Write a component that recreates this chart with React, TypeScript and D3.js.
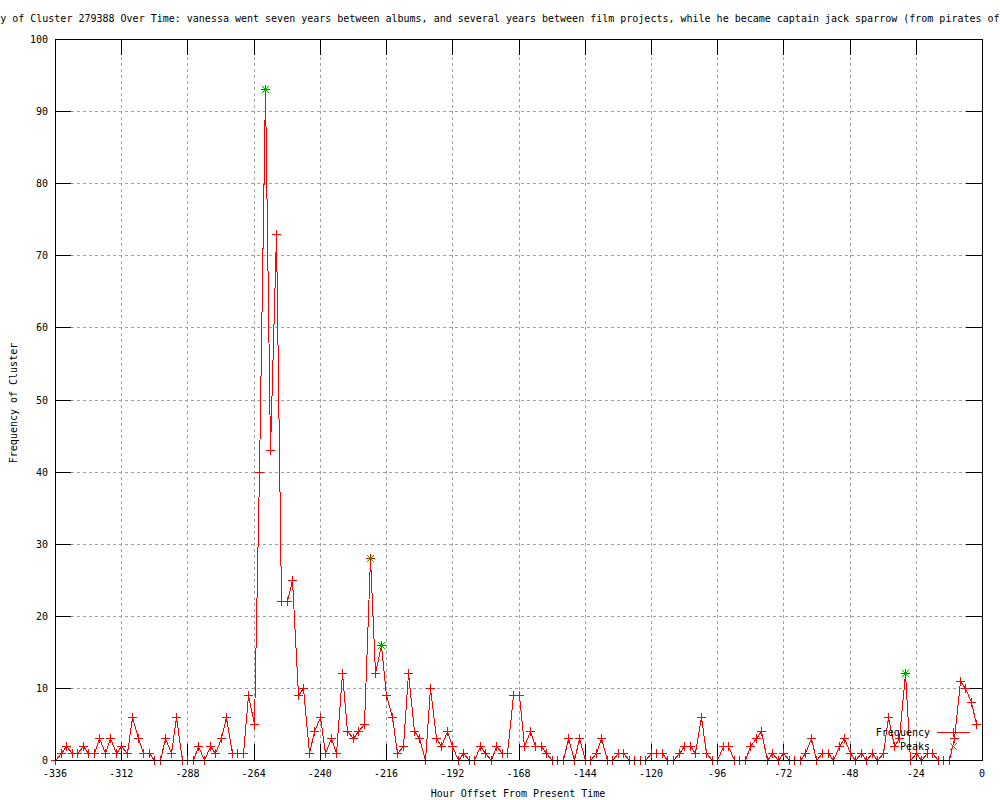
import React from "react";
import * as d3 from "d3";

// ---- data ----
const title =
  "Frequency of Cluster 279388 Over Time: vanessa went seven years between albums, and several years between film projects, while he became captain jack sparrow (from pirates of the caribbean)";
const xLabel = "Hour Offset From Present Time";
const yLabel = "Frequency of Cluster";
const xTicks = [-336, -312, -288, -264, -240, -216, -192, -168, -144, -120, -96, -72, -48, -24, 0];
const yTicks = [0, 10, 20, 30, 40, 50, 60, 70, 80, 90, 100];
// frequency every 2 hours from -336 to -2
const hours = d3.range(-336, 0, 2);
const frequency = [
  0, 1, 2, 1, 1, 2, 1, 1, 3, 1,
  3, 1, 2, 1, 6, 3, 1, 1, 0, 0,
  3, 1, 6, 0, 0, 0, 2, 0, 2, 1,
  3, 6, 1, 1, 1, 9, 5, 40, 93, 43,
  73, 22, 22, 25, 9, 10, 1, 4, 6, 1,
  3, 1, 12, 4, 3, 4, 5, 28, 12, 16,
  9, 6, 1, 2, 12, 4, 3, 0, 10, 3,
  2, 4, 2, 0, 1, 0, 0, 2, 1, 0,
  2, 1, 1, 9, 9, 2, 4, 2, 2, 1,
  0, 0, 0, 3, 0, 3, 0, 0, 1, 3,
  0, 0, 1, 1, 0, 0, 0, 0, 1, 1,
  1, 0, 0, 1, 2, 2, 1, 6, 1, 0,
  0, 2, 2, 0, 0, 0, 2, 3, 4, 0,
  1, 0, 1, 0, 0, 0, 1, 3, 0, 1,
  1, 0, 2, 3, 1, 0, 1, 0, 1, 0,
  1, 6, 2, 3, 12, 0, 1, 0, 1, 1,
  0, 0, 0, 3, 11, 10, 8, 5,
];
const peakHours = [-260, -222, -218, -28];
const peakValues = [93, 28, 16, 12];

const FONT = "'DejaVu Sans Mono', 'Liberation Mono', monospace";
const RED = "#ff0000";
const GREEN = "#00c000";

const plusPath = (s: number) => `M${-s},0H${s}M0,${-s}V${s}`;
const crossPath = (s: number) => `M${-s},${-s}L${s},${s}M${-s},${s}L${s},${-s}`;

export default function App() {
  const W = 1000, H = 800;
  const left = 55, right = 982, top = 39, bottom = 760;
  const x = d3.scaleLinear().domain([-336, 0]).range([left, right]);
  const y = d3.scaleLinear().domain([0, 100]).range([bottom, top]);
  const tickLen = 16;

  const pts: [number, number][] = hours.map((h, i) => [h, frequency[i]]);
  const line = d3.line<[number, number]>().x((d) => Math.round(x(d[0])) + 0.5).y((d) => Math.round(y(d[1])) + 0.5);

  return (
    <svg
      width={W}
      height={H}
      style={{ position: "absolute", left: 0, top: 0, background: "#fff" }}
      fontFamily={FONT}
      fontSize={10}
    >
      <rect x={0} y={0} width={W} height={H} fill="#fff" />
      {/* grid */}
      <g stroke="#a0a0a0" strokeDasharray="3,3" shapeRendering="crispEdges">
        {xTicks.slice(1, -1).map((t) => (
          <line key={"gx" + t} x1={x(t) + 0.5} x2={x(t) + 0.5} y1={bottom - tickLen} y2={top + tickLen} />
        ))}
        {yTicks.slice(1, -1).map((t) => (
          <line key={"gy" + t} x1={left + tickLen} x2={right - tickLen} y1={y(t) + 0.5} y2={y(t) + 0.5} />
        ))}
      </g>
      {/* ticks */}
      <g stroke="#000" shapeRendering="crispEdges">
        {xTicks.map((t) => (
          <g key={"tx" + t}>
            <line x1={x(t) + 0.5} x2={x(t) + 0.5} y1={bottom} y2={bottom - tickLen} />
            <line x1={x(t) + 0.5} x2={x(t) + 0.5} y1={top} y2={top + tickLen} />
          </g>
        ))}
        {yTicks.map((t) => (
          <g key={"ty" + t}>
            <line x1={left} x2={left + tickLen} y1={y(t) + 0.5} y2={y(t) + 0.5} />
            <line x1={right} x2={right - tickLen} y1={y(t) + 0.5} y2={y(t) + 0.5} />
          </g>
        ))}
      </g>
      {/* tick labels */}
      <g fill="#000">
        {xTicks.map((t) => (
          <text key={"lx" + t} x={x(t)} y={bottom + 17} textAnchor="middle">
            {t}
          </text>
        ))}
        {yTicks.map((t) => (
          <text key={"ly" + t} x={left - 7} y={y(t) + 4} textAnchor="end">
            {t}
          </text>
        ))}
      </g>
      {/* data line */}
      <path d={line(pts) || ""} fill="none" stroke={RED} strokeWidth={1} shapeRendering="crispEdges" />
      <g stroke={RED} strokeWidth={1} shapeRendering="crispEdges">
        {pts.map((d, i) => (
          <path key={"m" + i} d={plusPath(4.5)} transform={`translate(${Math.round(x(d[0])) + 0.5},${Math.round(y(d[1])) + 0.5})`} />
        ))}
      </g>
      <g stroke={GREEN} strokeWidth={1} shapeRendering="crispEdges">
        {peakHours.map((h, i) => (
          <path key={"p" + i} d={crossPath(3.5)} transform={`translate(${Math.round(x(h)) + 0.5},${Math.round(y(peakValues[i])) + 0.5})`} />
        ))}
      </g>
      {/* border */}
      <rect x={left + 0.5} y={top + 0.5} width={right - left} height={bottom - top} fill="none" stroke="#000" shapeRendering="crispEdges" />
      {/* legend */}
      <g>
        <text x={930} y={736} textAnchor="end">Frequency</text>
        <line x1={937} x2={970} y1={732.5} y2={732.5} stroke={RED} shapeRendering="crispEdges" />
        <path d={plusPath(4.5)} transform="translate(953.5,732.5)" stroke={RED} shapeRendering="crispEdges" />
        <text x={930} y={750} textAnchor="end">Peaks</text>
        <path d={crossPath(3.5)} transform="translate(953.5,746.5)" stroke={GREEN} shapeRendering="crispEdges" />
      </g>
      {/* titles */}
      <text x={-48} y={22} textAnchor="start">{title}</text>
      <text x={518} y={797} textAnchor="middle">{xLabel}</text>
      <text transform="translate(17,403) rotate(-90)" textAnchor="middle">{yLabel}</text>
    </svg>
  );
}
